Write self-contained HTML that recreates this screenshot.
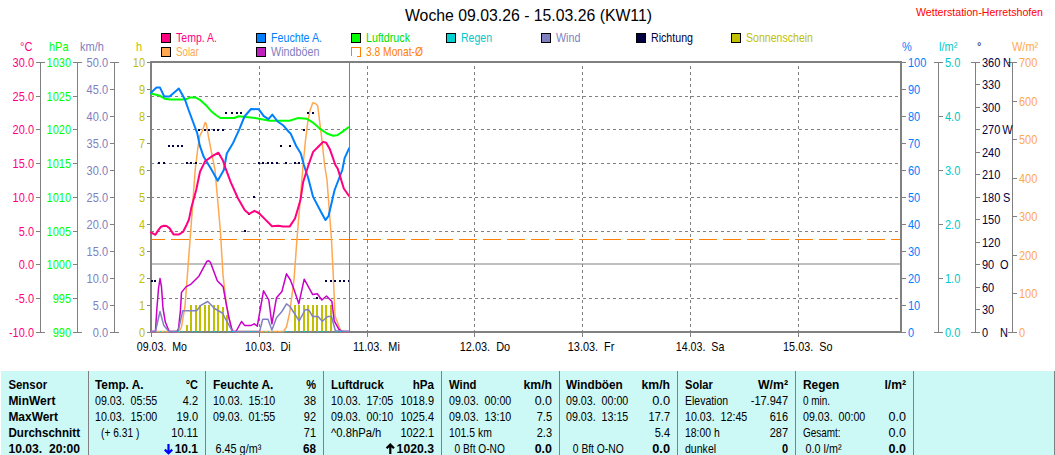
<!DOCTYPE html><html><head><meta charset="utf-8"><style>html,body{margin:0;padding:0;background:#fff;overflow:hidden}svg{display:block;font-family:"Liberation Sans", sans-serif;white-space:pre}</style></head><body>
<svg width="1055" height="455" viewBox="0 0 1055 455">
<rect x="0" y="0" width="1055" height="455" fill="#fff" shape-rendering="crispEdges"/>
<rect x="161" y="33" width="10" height="10" fill="#000" shape-rendering="crispEdges"/>
<rect x="162" y="34" width="8" height="8" fill="#ff0080" shape-rendering="crispEdges"/>
<rect x="256" y="33" width="10" height="10" fill="#000" shape-rendering="crispEdges"/>
<rect x="257" y="34" width="8" height="8" fill="#0080ff" shape-rendering="crispEdges"/>
<rect x="351" y="33" width="10" height="10" fill="#000" shape-rendering="crispEdges"/>
<rect x="352" y="34" width="8" height="8" fill="#00ff00" shape-rendering="crispEdges"/>
<rect x="446" y="33" width="10" height="10" fill="#000" shape-rendering="crispEdges"/>
<rect x="447" y="34" width="8" height="8" fill="#00d0d0" shape-rendering="crispEdges"/>
<rect x="541" y="33" width="10" height="10" fill="#000" shape-rendering="crispEdges"/>
<rect x="542" y="34" width="8" height="8" fill="#8080c0" shape-rendering="crispEdges"/>
<rect x="636" y="33" width="10" height="10" fill="#000" shape-rendering="crispEdges"/>
<rect x="637" y="34" width="8" height="8" fill="#000040" shape-rendering="crispEdges"/>
<rect x="731" y="33" width="10" height="10" fill="#000" shape-rendering="crispEdges"/>
<rect x="732" y="34" width="8" height="8" fill="#c0c000" shape-rendering="crispEdges"/>
<rect x="161" y="47" width="10" height="10" fill="#000" shape-rendering="crispEdges"/>
<rect x="162" y="48" width="8" height="8" fill="#ffa850" shape-rendering="crispEdges"/>
<rect x="256" y="47" width="10" height="10" fill="#000" shape-rendering="crispEdges"/>
<rect x="257" y="48" width="8" height="8" fill="#c020c0" shape-rendering="crispEdges"/>
<rect x="351" y="47" width="1" height="9" fill="#ff8000" shape-rendering="crispEdges"/>
<rect x="351" y="47" width="10" height="1" fill="#ff8000" shape-rendering="crispEdges"/>
<rect x="360" y="47" width="1" height="10" fill="#ff8000" shape-rendering="crispEdges"/>
<rect x="357" y="56" width="4" height="1" fill="#ff8000" shape-rendering="crispEdges"/>
<rect x="40" y="62" width="1" height="271" fill="#808080"/>
<rect x="36" y="332" width="9" height="1" fill="#808080" shape-rendering="crispEdges"/>
<rect x="36" y="298" width="4" height="1" fill="#808080" shape-rendering="crispEdges"/>
<rect x="36" y="264" width="4" height="1" fill="#808080" shape-rendering="crispEdges"/>
<rect x="36" y="231" width="4" height="1" fill="#808080" shape-rendering="crispEdges"/>
<rect x="36" y="197" width="4" height="1" fill="#808080" shape-rendering="crispEdges"/>
<rect x="36" y="163" width="4" height="1" fill="#808080" shape-rendering="crispEdges"/>
<rect x="36" y="129" width="4" height="1" fill="#808080" shape-rendering="crispEdges"/>
<rect x="36" y="96" width="4" height="1" fill="#808080" shape-rendering="crispEdges"/>
<rect x="36" y="62" width="9" height="1" fill="#808080" shape-rendering="crispEdges"/>
<rect x="77" y="62" width="1" height="271" fill="#808080"/>
<rect x="73" y="332" width="9" height="1" fill="#808080" shape-rendering="crispEdges"/>
<rect x="73" y="298" width="4" height="1" fill="#808080" shape-rendering="crispEdges"/>
<rect x="73" y="264" width="4" height="1" fill="#808080" shape-rendering="crispEdges"/>
<rect x="73" y="231" width="4" height="1" fill="#808080" shape-rendering="crispEdges"/>
<rect x="73" y="197" width="4" height="1" fill="#808080" shape-rendering="crispEdges"/>
<rect x="73" y="163" width="4" height="1" fill="#808080" shape-rendering="crispEdges"/>
<rect x="73" y="129" width="4" height="1" fill="#808080" shape-rendering="crispEdges"/>
<rect x="73" y="96" width="4" height="1" fill="#808080" shape-rendering="crispEdges"/>
<rect x="73" y="62" width="9" height="1" fill="#808080" shape-rendering="crispEdges"/>
<rect x="114" y="62" width="1" height="271" fill="#808080"/>
<rect x="110" y="332" width="9" height="1" fill="#808080" shape-rendering="crispEdges"/>
<rect x="110" y="305" width="4" height="1" fill="#808080" shape-rendering="crispEdges"/>
<rect x="110" y="278" width="4" height="1" fill="#808080" shape-rendering="crispEdges"/>
<rect x="110" y="251" width="4" height="1" fill="#808080" shape-rendering="crispEdges"/>
<rect x="110" y="224" width="4" height="1" fill="#808080" shape-rendering="crispEdges"/>
<rect x="110" y="197" width="4" height="1" fill="#808080" shape-rendering="crispEdges"/>
<rect x="110" y="170" width="4" height="1" fill="#808080" shape-rendering="crispEdges"/>
<rect x="110" y="143" width="4" height="1" fill="#808080" shape-rendering="crispEdges"/>
<rect x="110" y="116" width="4" height="1" fill="#808080" shape-rendering="crispEdges"/>
<rect x="110" y="89" width="4" height="1" fill="#808080" shape-rendering="crispEdges"/>
<rect x="110" y="62" width="9" height="1" fill="#808080" shape-rendering="crispEdges"/>
<rect x="147" y="62" width="3" height="1" fill="#808080" shape-rendering="crispEdges"/>
<rect x="147" y="89" width="3" height="1" fill="#808080" shape-rendering="crispEdges"/>
<rect x="147" y="116" width="3" height="1" fill="#808080" shape-rendering="crispEdges"/>
<rect x="147" y="143" width="3" height="1" fill="#808080" shape-rendering="crispEdges"/>
<rect x="147" y="170" width="3" height="1" fill="#808080" shape-rendering="crispEdges"/>
<rect x="147" y="197" width="3" height="1" fill="#808080" shape-rendering="crispEdges"/>
<rect x="147" y="224" width="3" height="1" fill="#808080" shape-rendering="crispEdges"/>
<rect x="147" y="251" width="3" height="1" fill="#808080" shape-rendering="crispEdges"/>
<rect x="147" y="278" width="3" height="1" fill="#808080" shape-rendering="crispEdges"/>
<rect x="147" y="305" width="3" height="1" fill="#808080" shape-rendering="crispEdges"/>
<rect x="147" y="332" width="3" height="1" fill="#808080" shape-rendering="crispEdges"/>
<rect x="902" y="62" width="4" height="1" fill="#808080" shape-rendering="crispEdges"/>
<rect x="902" y="89" width="4" height="1" fill="#808080" shape-rendering="crispEdges"/>
<rect x="902" y="116" width="4" height="1" fill="#808080" shape-rendering="crispEdges"/>
<rect x="902" y="143" width="4" height="1" fill="#808080" shape-rendering="crispEdges"/>
<rect x="902" y="170" width="4" height="1" fill="#808080" shape-rendering="crispEdges"/>
<rect x="902" y="197" width="4" height="1" fill="#808080" shape-rendering="crispEdges"/>
<rect x="902" y="224" width="4" height="1" fill="#808080" shape-rendering="crispEdges"/>
<rect x="902" y="251" width="4" height="1" fill="#808080" shape-rendering="crispEdges"/>
<rect x="902" y="278" width="4" height="1" fill="#808080" shape-rendering="crispEdges"/>
<rect x="902" y="305" width="4" height="1" fill="#808080" shape-rendering="crispEdges"/>
<rect x="902" y="332" width="4" height="1" fill="#808080" shape-rendering="crispEdges"/>
<rect x="938" y="62" width="1" height="271" fill="#808080"/>
<rect x="934" y="332" width="9" height="1" fill="#808080" shape-rendering="crispEdges"/>
<rect x="939" y="278" width="4" height="1" fill="#808080" shape-rendering="crispEdges"/>
<rect x="939" y="224" width="4" height="1" fill="#808080" shape-rendering="crispEdges"/>
<rect x="939" y="170" width="4" height="1" fill="#808080" shape-rendering="crispEdges"/>
<rect x="939" y="116" width="4" height="1" fill="#808080" shape-rendering="crispEdges"/>
<rect x="934" y="62" width="9" height="1" fill="#808080" shape-rendering="crispEdges"/>
<rect x="975" y="62" width="1" height="271" fill="#808080"/>
<rect x="971" y="332" width="9" height="1" fill="#808080" shape-rendering="crispEdges"/>
<rect x="976" y="309" width="4" height="1" fill="#808080" shape-rendering="crispEdges"/>
<rect x="976" y="287" width="4" height="1" fill="#808080" shape-rendering="crispEdges"/>
<rect x="976" y="264" width="4" height="1" fill="#808080" shape-rendering="crispEdges"/>
<rect x="976" y="242" width="4" height="1" fill="#808080" shape-rendering="crispEdges"/>
<rect x="976" y="219" width="4" height="1" fill="#808080" shape-rendering="crispEdges"/>
<rect x="976" y="197" width="4" height="1" fill="#808080" shape-rendering="crispEdges"/>
<rect x="976" y="174" width="4" height="1" fill="#808080" shape-rendering="crispEdges"/>
<rect x="976" y="152" width="4" height="1" fill="#808080" shape-rendering="crispEdges"/>
<rect x="976" y="129" width="4" height="1" fill="#808080" shape-rendering="crispEdges"/>
<rect x="976" y="107" width="4" height="1" fill="#808080" shape-rendering="crispEdges"/>
<rect x="976" y="84" width="4" height="1" fill="#808080" shape-rendering="crispEdges"/>
<rect x="971" y="62" width="9" height="1" fill="#808080" shape-rendering="crispEdges"/>
<rect x="1012" y="62" width="1" height="271" fill="#808080"/>
<rect x="1008" y="332" width="9" height="1" fill="#808080" shape-rendering="crispEdges"/>
<rect x="1013" y="293" width="4" height="1" fill="#808080" shape-rendering="crispEdges"/>
<rect x="1013" y="255" width="4" height="1" fill="#808080" shape-rendering="crispEdges"/>
<rect x="1013" y="216" width="4" height="1" fill="#808080" shape-rendering="crispEdges"/>
<rect x="1013" y="178" width="4" height="1" fill="#808080" shape-rendering="crispEdges"/>
<rect x="1013" y="139" width="4" height="1" fill="#808080" shape-rendering="crispEdges"/>
<rect x="1013" y="101" width="4" height="1" fill="#808080" shape-rendering="crispEdges"/>
<rect x="1008" y="62" width="9" height="1" fill="#808080" shape-rendering="crispEdges"/>
<line x1="152" y1="96.5" x2="900" y2="96.5" stroke="#808080" stroke-width="1" stroke-dasharray="3,3" stroke-dashoffset="1"/>
<line x1="152" y1="129.5" x2="900" y2="129.5" stroke="#808080" stroke-width="1" stroke-dasharray="3,3" stroke-dashoffset="1"/>
<line x1="152" y1="163.5" x2="900" y2="163.5" stroke="#808080" stroke-width="1" stroke-dasharray="3,3" stroke-dashoffset="1"/>
<line x1="152" y1="197.5" x2="900" y2="197.5" stroke="#808080" stroke-width="1" stroke-dasharray="3,3" stroke-dashoffset="1"/>
<line x1="152" y1="231.5" x2="900" y2="231.5" stroke="#808080" stroke-width="1" stroke-dasharray="3,3" stroke-dashoffset="1"/>
<line x1="152" y1="298.5" x2="900" y2="298.5" stroke="#808080" stroke-width="1" stroke-dasharray="3,3" stroke-dashoffset="1"/>
<rect x="152" y="263" width="748" height="2" fill="#c0c0c0" shape-rendering="crispEdges"/>
<line x1="259.5" y1="63" x2="259.5" y2="331" stroke="#808080" stroke-width="1" stroke-dasharray="3,3" stroke-dashoffset="3"/>
<rect x="259" y="333" width="1" height="4" fill="#808080" shape-rendering="crispEdges"/>
<line x1="367.5" y1="63" x2="367.5" y2="331" stroke="#808080" stroke-width="1" stroke-dasharray="3,3" stroke-dashoffset="3"/>
<rect x="367" y="333" width="1" height="4" fill="#808080" shape-rendering="crispEdges"/>
<line x1="474.5" y1="63" x2="474.5" y2="331" stroke="#808080" stroke-width="1" stroke-dasharray="3,3" stroke-dashoffset="3"/>
<rect x="474" y="333" width="1" height="4" fill="#808080" shape-rendering="crispEdges"/>
<line x1="582.5" y1="63" x2="582.5" y2="331" stroke="#808080" stroke-width="1" stroke-dasharray="3,3" stroke-dashoffset="3"/>
<rect x="582" y="333" width="1" height="4" fill="#808080" shape-rendering="crispEdges"/>
<line x1="690.5" y1="63" x2="690.5" y2="331" stroke="#808080" stroke-width="1" stroke-dasharray="3,3" stroke-dashoffset="3"/>
<rect x="690" y="333" width="1" height="4" fill="#808080" shape-rendering="crispEdges"/>
<line x1="798.5" y1="63" x2="798.5" y2="331" stroke="#808080" stroke-width="1" stroke-dasharray="3,3" stroke-dashoffset="3"/>
<rect x="798" y="333" width="1" height="4" fill="#808080" shape-rendering="crispEdges"/>
<rect x="151" y="333" width="1" height="4" fill="#808080" shape-rendering="crispEdges"/>
<line x1="152" y1="239.5" x2="900" y2="239.5" stroke="#ff8000" stroke-width="1" stroke-dasharray="18,6" stroke-dashoffset="5"/>
<rect x="150" y="61" width="752" height="2" fill="#808080" shape-rendering="crispEdges"/>
<rect x="150" y="61" width="2" height="272" fill="#808080" shape-rendering="crispEdges"/>
<rect x="900" y="61" width="2" height="272" fill="#808080" shape-rendering="crispEdges"/>
<rect x="150" y="331" width="752" height="2" fill="#808080" shape-rendering="crispEdges"/>
<rect x="147" y="62" width="3" height="1" fill="#808080" shape-rendering="crispEdges"/>
<rect x="902" y="62" width="4" height="1" fill="#808080" shape-rendering="crispEdges"/>
<rect x="186" y="325" width="2" height="6" fill="#c0c000" shape-rendering="crispEdges"/>
<rect x="190" y="305" width="2" height="26" fill="#c0c000" shape-rendering="crispEdges"/>
<rect x="195" y="305" width="2" height="26" fill="#c0c000" shape-rendering="crispEdges"/>
<rect x="199" y="305" width="2" height="26" fill="#c0c000" shape-rendering="crispEdges"/>
<rect x="204" y="305" width="2" height="26" fill="#c0c000" shape-rendering="crispEdges"/>
<rect x="208" y="305" width="2" height="26" fill="#c0c000" shape-rendering="crispEdges"/>
<rect x="213" y="305" width="2" height="26" fill="#c0c000" shape-rendering="crispEdges"/>
<rect x="217" y="305" width="2" height="26" fill="#c0c000" shape-rendering="crispEdges"/>
<rect x="222" y="307" width="2" height="24" fill="#c0c000" shape-rendering="crispEdges"/>
<rect x="226" y="315" width="2" height="16" fill="#c0c000" shape-rendering="crispEdges"/>
<rect x="294" y="305" width="2" height="26" fill="#c0c000" shape-rendering="crispEdges"/>
<rect x="298" y="305" width="2" height="26" fill="#c0c000" shape-rendering="crispEdges"/>
<rect x="303" y="305" width="2" height="26" fill="#c0c000" shape-rendering="crispEdges"/>
<rect x="307" y="305" width="2" height="26" fill="#c0c000" shape-rendering="crispEdges"/>
<rect x="312" y="305" width="2" height="26" fill="#c0c000" shape-rendering="crispEdges"/>
<rect x="316" y="305" width="2" height="26" fill="#c0c000" shape-rendering="crispEdges"/>
<rect x="321" y="305" width="2" height="26" fill="#c0c000" shape-rendering="crispEdges"/>
<rect x="325" y="305" width="2" height="26" fill="#c0c000" shape-rendering="crispEdges"/>
<rect x="330" y="305" width="2" height="26" fill="#c0c000" shape-rendering="crispEdges"/>
<polyline points="151.0,331.5 179.2,331.5 181.5,327.0 185.0,306.2 187.3,276.2 190.8,230.0 195.2,170.0 197.8,148.3 199.8,135.7 202.4,131.1 205.1,122.5 206.4,124.5 208.4,136.4 211.7,153.5 215.0,170.0 220.3,230.0 223.1,276.2 226.6,306.2 231.2,328.0 233.0,331.5 283.5,331.5 286.5,327.0 289.6,313.0 294.0,280.0 296.9,240.0 303.1,165.0 305.4,141.2 307.7,122.7 310.0,110.4 312.8,102.7 315.4,103.5 317.7,105.8 319.2,118.0 321.5,136.5 324.6,165.0 327.0,180.0 331.5,240.0 333.5,280.0 335.0,316.0 341.0,331.5 349.0,331.5" fill="none" stroke="#ffa850" stroke-width="1.5" stroke-linejoin="round" stroke-linecap="round"/>
<polyline points="151.0,331.5 155.4,331.5 156.9,308.5 158.5,288.5 160.0,278.5 161.5,287.0 163.0,308.5 165.4,322.3 169.2,331.5 176.9,331.5 178.5,328.5 180.4,310.8 181.5,292.4 186.2,286.6 190.8,284.3 198.9,276.2 207.0,261.2 208.8,260.8 210.4,262.3 217.3,280.8 223.1,286.6 225.4,299.3 228.9,317.8 232.4,331.5 236.0,331.5 241.5,321.5 244.6,325.4 251.2,325.4 254.2,323.8 257.3,326.2 260.4,308.5 263.5,290.8 268.8,300.0 271.9,323.8 276.5,297.7 281.9,291.5 286.5,273.8 290.4,280.0 294.2,290.0 298.8,303.8 304.2,279.2 312.7,294.6 317.3,293.8 321.9,300.0 326.5,296.0 331.9,301.5 334.2,320.8 338.8,329.2 341.9,331.5 349.0,331.5" fill="none" stroke="#c800c8" stroke-width="1.5" stroke-linejoin="round" stroke-linecap="round"/>
<polyline points="151.0,331.5 155.4,331.5 160.0,311.5 163.8,325.4 169.0,331.5 178.1,331.5 182.7,310.8 196.6,310.8 200.8,305.4 207.7,301.5 214.6,308.5 222.3,313.0 232.4,331.5 259.6,331.5 262.7,319.2 268.0,319.2 271.9,330.0 276.5,317.7 281.9,311.5 286.5,303.8 290.0,306.5 299.2,320.8 305.0,310.0 308.5,309.6 312.7,316.5 318.0,316.5 322.3,321.2 327.7,316.5 331.5,316.5 335.4,330.8 349.0,331.5" fill="none" stroke="#8080c0" stroke-width="1.5" stroke-linejoin="round" stroke-linecap="round"/>
<line x1="151" y1="331.5" x2="349" y2="331.5" stroke="#00d0d0" stroke-width="1" stroke-dasharray="1,3.5"/>
<rect x="151.0" y="280.0" width="2" height="2" fill="#000040" shape-rendering="crispEdges"/>
<rect x="154.0" y="280.0" width="2" height="2" fill="#000040" shape-rendering="crispEdges"/>
<rect x="158.3" y="162.0" width="2" height="2" fill="#000040" shape-rendering="crispEdges"/>
<rect x="162.6" y="162.0" width="2" height="2" fill="#000040" shape-rendering="crispEdges"/>
<rect x="185.9" y="162.0" width="2" height="2" fill="#000040" shape-rendering="crispEdges"/>
<rect x="190.1" y="162.0" width="2" height="2" fill="#000040" shape-rendering="crispEdges"/>
<rect x="194.7" y="162.0" width="2" height="2" fill="#000040" shape-rendering="crispEdges"/>
<rect x="167.6" y="145.0" width="2" height="2" fill="#000040" shape-rendering="crispEdges"/>
<rect x="172.3" y="145.0" width="2" height="2" fill="#000040" shape-rendering="crispEdges"/>
<rect x="176.9" y="145.0" width="2" height="2" fill="#000040" shape-rendering="crispEdges"/>
<rect x="181.1" y="145.0" width="2" height="2" fill="#000040" shape-rendering="crispEdges"/>
<rect x="198.3" y="129.0" width="2" height="2" fill="#000040" shape-rendering="crispEdges"/>
<rect x="204.0" y="129.0" width="2" height="2" fill="#000040" shape-rendering="crispEdges"/>
<rect x="207.6" y="129.0" width="2" height="2" fill="#000040" shape-rendering="crispEdges"/>
<rect x="212.6" y="129.0" width="2" height="2" fill="#000040" shape-rendering="crispEdges"/>
<rect x="217.3" y="129.0" width="2" height="2" fill="#000040" shape-rendering="crispEdges"/>
<rect x="221.9" y="129.0" width="2" height="2" fill="#000040" shape-rendering="crispEdges"/>
<rect x="225.0" y="112.0" width="2" height="2" fill="#000040" shape-rendering="crispEdges"/>
<rect x="230.5" y="112.0" width="2" height="2" fill="#000040" shape-rendering="crispEdges"/>
<rect x="235.5" y="112.0" width="2" height="2" fill="#000040" shape-rendering="crispEdges"/>
<rect x="240.0" y="112.0" width="2" height="2" fill="#000040" shape-rendering="crispEdges"/>
<rect x="244.0" y="229.8" width="2" height="2" fill="#000040" shape-rendering="crispEdges"/>
<rect x="248.2" y="212.8" width="2" height="2" fill="#000040" shape-rendering="crispEdges"/>
<rect x="253.0" y="195.5" width="2" height="2" fill="#000040" shape-rendering="crispEdges"/>
<rect x="257.9" y="162.0" width="2" height="2" fill="#000040" shape-rendering="crispEdges"/>
<rect x="262.1" y="162.0" width="2" height="2" fill="#000040" shape-rendering="crispEdges"/>
<rect x="267.2" y="162.0" width="2" height="2" fill="#000040" shape-rendering="crispEdges"/>
<rect x="271.3" y="162.0" width="2" height="2" fill="#000040" shape-rendering="crispEdges"/>
<rect x="275.9" y="162.0" width="2" height="2" fill="#000040" shape-rendering="crispEdges"/>
<rect x="284.8" y="162.0" width="2" height="2" fill="#000040" shape-rendering="crispEdges"/>
<rect x="293.6" y="162.0" width="2" height="2" fill="#000040" shape-rendering="crispEdges"/>
<rect x="297.9" y="162.0" width="2" height="2" fill="#000040" shape-rendering="crispEdges"/>
<rect x="279.8" y="145.0" width="2" height="2" fill="#000040" shape-rendering="crispEdges"/>
<rect x="289.0" y="145.0" width="2" height="2" fill="#000040" shape-rendering="crispEdges"/>
<rect x="302.8" y="129.0" width="2" height="2" fill="#000040" shape-rendering="crispEdges"/>
<rect x="307.0" y="112.0" width="2" height="2" fill="#000040" shape-rendering="crispEdges"/>
<rect x="312.1" y="112.0" width="2" height="2" fill="#000040" shape-rendering="crispEdges"/>
<rect x="315.5" y="296.5" width="2" height="2" fill="#000040" shape-rendering="crispEdges"/>
<rect x="324.9" y="280.0" width="2" height="2" fill="#000040" shape-rendering="crispEdges"/>
<rect x="329.9" y="280.0" width="2" height="2" fill="#000040" shape-rendering="crispEdges"/>
<rect x="334.0" y="280.0" width="2" height="2" fill="#000040" shape-rendering="crispEdges"/>
<rect x="339.0" y="280.0" width="2" height="2" fill="#000040" shape-rendering="crispEdges"/>
<rect x="342.9" y="280.0" width="2" height="2" fill="#000040" shape-rendering="crispEdges"/>
<rect x="348.0" y="280.0" width="2" height="2" fill="#000040" shape-rendering="crispEdges"/>
<polyline points="151.0,93.5 160.0,95.8 165.0,98.8 170.0,99.6 185.0,99.6 190.0,97.6 195.8,97.6 200.4,100.2 206.5,105.8 211.2,111.2 215.8,115.0 220.4,118.0 234.2,118.0 238.8,116.2 255.0,118.0 269.8,120.8 289.6,120.8 297.7,118.1 306.9,118.8 313.1,122.7 319.2,128.1 326.9,133.5 333.1,135.8 336.9,135.3 342.3,131.9 348.5,127.3" fill="none" stroke="#00ff00" stroke-width="2" stroke-linejoin="round" stroke-linecap="round"/>
<polyline points="151.0,92.7 156.5,87.6 160.0,87.6 164.2,96.5 169.6,96.5 178.8,88.5 185.0,99.6 188.6,110.0 197.2,133.1 199.8,145.6 203.7,156.8 211.7,170.0 217.7,180.8 223.8,170.0 226.8,153.5 232.8,143.6 239.4,129.1 244.5,116.5 251.0,109.0 258.8,109.3 263.8,116.2 268.5,119.2 272.3,114.6 277.7,121.5 283.0,125.2 288.5,131.5 290.8,133.8 296.2,146.0 300.8,153.5 303.8,164.6 305.5,170.0 308.2,178.0 313.1,196.9 320.8,211.5 325.4,220.0 328.5,216.2 334.6,190.0 342.3,170.0 344.6,158.1 349.2,148.1" fill="none" stroke="#0080ff" stroke-width="2" stroke-linejoin="round" stroke-linecap="round"/>
<polyline points="151.0,232.3 155.4,234.8 158.0,230.6 161.0,226.7 164.0,225.7 166.5,226.0 169.5,228.1 173.5,234.4 179.0,234.4 183.0,232.0 186.5,225.0 189.0,219.4 191.5,206.9 196.2,190.0 200.0,171.7 205.2,161.1 211.4,156.7 218.4,152.7 222.8,160.2 225.5,168.1 230.7,182.2 237.8,198.0 244.8,210.3 249.2,213.9 254.4,210.8 258.8,213.0 265.4,219.6 272.0,226.2 278.6,225.7 283.0,226.6 289.6,226.6 295.0,218.5 297.3,210.8 300.5,199.8 303.1,182.3 306.9,170.0 308.5,165.0 313.1,151.9 318.5,146.5 323.1,141.9 326.2,142.7 330.0,149.6 335.4,165.0 337.9,169.1 343.8,188.5 349.2,196.2" fill="none" stroke="#ff0080" stroke-width="2" stroke-linejoin="round" stroke-linecap="round"/>
<rect x="349" y="63" width="1" height="268" fill="#808080" shape-rendering="crispEdges"/>
<rect x="1" y="371" width="1053" height="84" fill="#ccf8f6" shape-rendering="crispEdges"/>
<rect x="1054" y="371" width="1" height="84" fill="#808080" shape-rendering="crispEdges"/>
<rect x="88" y="371" width="1" height="84" fill="#808080" shape-rendering="crispEdges"/>
<rect x="205" y="371" width="1" height="84" fill="#808080" shape-rendering="crispEdges"/>
<rect x="323" y="371" width="1" height="84" fill="#808080" shape-rendering="crispEdges"/>
<rect x="441" y="371" width="1" height="84" fill="#808080" shape-rendering="crispEdges"/>
<rect x="559" y="371" width="1" height="84" fill="#808080" shape-rendering="crispEdges"/>
<rect x="677" y="371" width="1" height="84" fill="#808080" shape-rendering="crispEdges"/>
<rect x="795" y="371" width="1" height="84" fill="#808080" shape-rendering="crispEdges"/>
<rect x="913" y="371" width="1" height="84" fill="#808080" shape-rendering="crispEdges"/>
<path d="M168.5,444 V453 M164.8,449.6 L168.5,453.3 L172.2,449.6" fill="none" stroke="#0000ff" stroke-width="2.2"/>
<path d="M390.3,454 V445 M386.6,448.3 L390.3,444.6 L394,448.3" fill="none" stroke="#000" stroke-width="2.2"/>
<g>
<text transform="translate(405,21) scale(1,1.0)" fill="#000" text-anchor="start" font-size="16" textLength="247" lengthAdjust="spacingAndGlyphs">Woche 09.03.26 - 15.03.26 (KW11)</text>
<text transform="translate(916,16) scale(1,1.01)" fill="#ff0000" text-anchor="start" font-size="11" textLength="127" lengthAdjust="spacingAndGlyphs">Wetterstation-Herretshofen</text>
<text transform="translate(176,42) scale(1,1.14)" fill="#ff0080" text-anchor="start" font-size="11" textLength="41" lengthAdjust="spacingAndGlyphs">Temp. A.</text>
<text transform="translate(271,42) scale(1,1.14)" fill="#0080ff" text-anchor="start" font-size="11" textLength="51" lengthAdjust="spacingAndGlyphs">Feuchte A.</text>
<text transform="translate(366,42) scale(1,1.14)" fill="#00e000" text-anchor="start" font-size="11" textLength="44" lengthAdjust="spacingAndGlyphs">Luftdruck</text>
<text transform="translate(461,42) scale(1,1.14)" fill="#00c8c8" text-anchor="start" font-size="11" textLength="31" lengthAdjust="spacingAndGlyphs">Regen</text>
<text transform="translate(556,42) scale(1,1.14)" fill="#8080c0" text-anchor="start" font-size="11" textLength="24.4" lengthAdjust="spacingAndGlyphs">Wind</text>
<text transform="translate(651,42) scale(1,1.14)" fill="#000040" text-anchor="start" font-size="11" textLength="42" lengthAdjust="spacingAndGlyphs">Richtung</text>
<text transform="translate(746,42) scale(1,1.14)" fill="#c0c000" text-anchor="start" font-size="11" textLength="67" lengthAdjust="spacingAndGlyphs">Sonnenschein</text>
<text transform="translate(176,56) scale(1,1.14)" fill="#ffa850" text-anchor="start" font-size="11" textLength="22.8" lengthAdjust="spacingAndGlyphs">Solar</text>
<text transform="translate(271,56) scale(1,1.14)" fill="#8080c0" text-anchor="start" font-size="11" textLength="48.5" lengthAdjust="spacingAndGlyphs">Windböen</text>
<text transform="translate(366,56) scale(1,1.14)" fill="#ff8000" text-anchor="start" font-size="11" textLength="57" lengthAdjust="spacingAndGlyphs">3.8 Monat-Ø</text>
<text transform="translate(34,337) scale(1,1.14)" fill="#ff0080" text-anchor="end" font-size="11">-10.0</text>
<text transform="translate(34,303) scale(1,1.14)" fill="#ff0080" text-anchor="end" font-size="11">-5.0</text>
<text transform="translate(34,269) scale(1,1.14)" fill="#ff0080" text-anchor="end" font-size="11">0.0</text>
<text transform="translate(34,236) scale(1,1.14)" fill="#ff0080" text-anchor="end" font-size="11">5.0</text>
<text transform="translate(34,202) scale(1,1.14)" fill="#ff0080" text-anchor="end" font-size="11">10.0</text>
<text transform="translate(34,168) scale(1,1.14)" fill="#ff0080" text-anchor="end" font-size="11">15.0</text>
<text transform="translate(34,134) scale(1,1.14)" fill="#ff0080" text-anchor="end" font-size="11">20.0</text>
<text transform="translate(34,101) scale(1,1.14)" fill="#ff0080" text-anchor="end" font-size="11">25.0</text>
<text transform="translate(34,67) scale(1,1.14)" fill="#ff0080" text-anchor="end" font-size="11">30.0</text>
<text transform="translate(20,51) scale(1,1.14)" fill="#ff0080" text-anchor="start" font-size="11">°C</text>
<text transform="translate(71,337) scale(1,1.14)" fill="#00ff00" text-anchor="end" font-size="11">990</text>
<text transform="translate(71,303) scale(1,1.14)" fill="#00ff00" text-anchor="end" font-size="11">995</text>
<text transform="translate(71,269) scale(1,1.14)" fill="#00ff00" text-anchor="end" font-size="11">1000</text>
<text transform="translate(71,236) scale(1,1.14)" fill="#00ff00" text-anchor="end" font-size="11">1005</text>
<text transform="translate(71,202) scale(1,1.14)" fill="#00ff00" text-anchor="end" font-size="11">1010</text>
<text transform="translate(71,168) scale(1,1.14)" fill="#00ff00" text-anchor="end" font-size="11">1015</text>
<text transform="translate(71,134) scale(1,1.14)" fill="#00ff00" text-anchor="end" font-size="11">1020</text>
<text transform="translate(71,101) scale(1,1.14)" fill="#00ff00" text-anchor="end" font-size="11">1025</text>
<text transform="translate(71,67) scale(1,1.14)" fill="#00ff00" text-anchor="end" font-size="11">1030</text>
<text transform="translate(49,51) scale(1,1.14)" fill="#00ff00" text-anchor="start" font-size="11">hPa</text>
<text transform="translate(108,337) scale(1,1.14)" fill="#8080c0" text-anchor="end" font-size="11">0.0</text>
<text transform="translate(108,310) scale(1,1.14)" fill="#8080c0" text-anchor="end" font-size="11">5.0</text>
<text transform="translate(108,283) scale(1,1.14)" fill="#8080c0" text-anchor="end" font-size="11">10.0</text>
<text transform="translate(108,256) scale(1,1.14)" fill="#8080c0" text-anchor="end" font-size="11">15.0</text>
<text transform="translate(108,229) scale(1,1.14)" fill="#8080c0" text-anchor="end" font-size="11">20.0</text>
<text transform="translate(108,202) scale(1,1.14)" fill="#8080c0" text-anchor="end" font-size="11">25.0</text>
<text transform="translate(108,175) scale(1,1.14)" fill="#8080c0" text-anchor="end" font-size="11">30.0</text>
<text transform="translate(108,148) scale(1,1.14)" fill="#8080c0" text-anchor="end" font-size="11">35.0</text>
<text transform="translate(108,121) scale(1,1.14)" fill="#8080c0" text-anchor="end" font-size="11">40.0</text>
<text transform="translate(108,94) scale(1,1.14)" fill="#8080c0" text-anchor="end" font-size="11">45.0</text>
<text transform="translate(108,67) scale(1,1.14)" fill="#8080c0" text-anchor="end" font-size="11">50.0</text>
<text transform="translate(80,51) scale(1,1.14)" fill="#8080c0" text-anchor="start" font-size="11">km/h</text>
<text transform="translate(145,67) scale(1,1.14)" fill="#c0c000" text-anchor="end" font-size="11">10</text>
<text transform="translate(145,94) scale(1,1.14)" fill="#c0c000" text-anchor="end" font-size="11">9</text>
<text transform="translate(145,121) scale(1,1.14)" fill="#c0c000" text-anchor="end" font-size="11">8</text>
<text transform="translate(145,148) scale(1,1.14)" fill="#c0c000" text-anchor="end" font-size="11">7</text>
<text transform="translate(145,175) scale(1,1.14)" fill="#c0c000" text-anchor="end" font-size="11">6</text>
<text transform="translate(145,202) scale(1,1.14)" fill="#c0c000" text-anchor="end" font-size="11">5</text>
<text transform="translate(145,229) scale(1,1.14)" fill="#c0c000" text-anchor="end" font-size="11">4</text>
<text transform="translate(145,256) scale(1,1.14)" fill="#c0c000" text-anchor="end" font-size="11">3</text>
<text transform="translate(145,283) scale(1,1.14)" fill="#c0c000" text-anchor="end" font-size="11">2</text>
<text transform="translate(145,310) scale(1,1.14)" fill="#c0c000" text-anchor="end" font-size="11">1</text>
<text transform="translate(145,337) scale(1,1.14)" fill="#c0c000" text-anchor="end" font-size="11">0</text>
<text transform="translate(136,51) scale(1,1.14)" fill="#c0c000" text-anchor="start" font-size="11">h</text>
<text transform="translate(908,67) scale(1,1.14)" fill="#0080ff" text-anchor="start" font-size="11">100</text>
<text transform="translate(908,94) scale(1,1.14)" fill="#0080ff" text-anchor="start" font-size="11">90</text>
<text transform="translate(908,121) scale(1,1.14)" fill="#0080ff" text-anchor="start" font-size="11">80</text>
<text transform="translate(908,148) scale(1,1.14)" fill="#0080ff" text-anchor="start" font-size="11">70</text>
<text transform="translate(908,175) scale(1,1.14)" fill="#0080ff" text-anchor="start" font-size="11">60</text>
<text transform="translate(908,202) scale(1,1.14)" fill="#0080ff" text-anchor="start" font-size="11">50</text>
<text transform="translate(908,229) scale(1,1.14)" fill="#0080ff" text-anchor="start" font-size="11">40</text>
<text transform="translate(908,256) scale(1,1.14)" fill="#0080ff" text-anchor="start" font-size="11">30</text>
<text transform="translate(908,283) scale(1,1.14)" fill="#0080ff" text-anchor="start" font-size="11">20</text>
<text transform="translate(908,310) scale(1,1.14)" fill="#0080ff" text-anchor="start" font-size="11">10</text>
<text transform="translate(908,337) scale(1,1.14)" fill="#0080ff" text-anchor="start" font-size="11">0</text>
<text transform="translate(902,51) scale(1,1.14)" fill="#0080ff" text-anchor="start" font-size="11">%</text>
<text transform="translate(945,337) scale(1,1.14)" fill="#00c8c8" text-anchor="start" font-size="11">0.0</text>
<text transform="translate(945,283) scale(1,1.14)" fill="#00c8c8" text-anchor="start" font-size="11">1.0</text>
<text transform="translate(945,229) scale(1,1.14)" fill="#00c8c8" text-anchor="start" font-size="11">2.0</text>
<text transform="translate(945,175) scale(1,1.14)" fill="#00c8c8" text-anchor="start" font-size="11">3.0</text>
<text transform="translate(945,121) scale(1,1.14)" fill="#00c8c8" text-anchor="start" font-size="11">4.0</text>
<text transform="translate(945,67) scale(1,1.14)" fill="#00c8c8" text-anchor="start" font-size="11">5.0</text>
<text transform="translate(939,51) scale(1,1.14)" fill="#00c8c8" text-anchor="start" font-size="11">l/m²</text>
<text transform="translate(1003,67) scale(1,1.14)" fill="#000040" text-anchor="start" font-size="11">N</text>
<text transform="translate(1002.2,134) scale(1,1.14)" fill="#000040" text-anchor="start" font-size="11">W</text>
<text transform="translate(1003,202) scale(1,1.14)" fill="#000040" text-anchor="start" font-size="11">S</text>
<text transform="translate(1000,269) scale(1,1.14)" fill="#000040" text-anchor="start" font-size="11">O</text>
<text transform="translate(1000,337) scale(1,1.14)" fill="#000040" text-anchor="start" font-size="11">N</text>
<text transform="translate(982,337) scale(1,1.14)" fill="#000040" text-anchor="start" font-size="11">0</text>
<text transform="translate(982,314) scale(1,1.14)" fill="#000040" text-anchor="start" font-size="11">30</text>
<text transform="translate(982,292) scale(1,1.14)" fill="#000040" text-anchor="start" font-size="11">60</text>
<text transform="translate(982,269) scale(1,1.14)" fill="#000040" text-anchor="start" font-size="11">90</text>
<text transform="translate(982,247) scale(1,1.14)" fill="#000040" text-anchor="start" font-size="11">120</text>
<text transform="translate(982,224) scale(1,1.14)" fill="#000040" text-anchor="start" font-size="11">150</text>
<text transform="translate(982,202) scale(1,1.14)" fill="#000040" text-anchor="start" font-size="11">180</text>
<text transform="translate(982,179) scale(1,1.14)" fill="#000040" text-anchor="start" font-size="11">210</text>
<text transform="translate(982,157) scale(1,1.14)" fill="#000040" text-anchor="start" font-size="11">240</text>
<text transform="translate(982,134) scale(1,1.14)" fill="#000040" text-anchor="start" font-size="11">270</text>
<text transform="translate(982,112) scale(1,1.14)" fill="#000040" text-anchor="start" font-size="11">300</text>
<text transform="translate(982,89) scale(1,1.14)" fill="#000040" text-anchor="start" font-size="11">330</text>
<text transform="translate(982,67) scale(1,1.14)" fill="#000040" text-anchor="start" font-size="11">360</text>
<text transform="translate(977,51) scale(1,1.14)" fill="#000040" text-anchor="start" font-size="11">°</text>
<text transform="translate(1019,337) scale(1,1.14)" fill="#ffa850" text-anchor="start" font-size="11">0</text>
<text transform="translate(1019,298) scale(1,1.14)" fill="#ffa850" text-anchor="start" font-size="11">100</text>
<text transform="translate(1019,260) scale(1,1.14)" fill="#ffa850" text-anchor="start" font-size="11">200</text>
<text transform="translate(1019,221) scale(1,1.14)" fill="#ffa850" text-anchor="start" font-size="11">300</text>
<text transform="translate(1019,183) scale(1,1.14)" fill="#ffa850" text-anchor="start" font-size="11">400</text>
<text transform="translate(1019,144) scale(1,1.14)" fill="#ffa850" text-anchor="start" font-size="11">500</text>
<text transform="translate(1019,106) scale(1,1.14)" fill="#ffa850" text-anchor="start" font-size="11">600</text>
<text transform="translate(1019,67) scale(1,1.14)" fill="#ffa850" text-anchor="start" font-size="11">700</text>
<text transform="translate(1012,51) scale(1,1.14)" fill="#ffa850" text-anchor="start" font-size="11">W/m²</text>
<text transform="translate(136.8,351) scale(1,1.14)" fill="#000" text-anchor="start" font-size="11" textLength="50.2" lengthAdjust="spacingAndGlyphs">09.03.  Mo</text>
<text transform="translate(245,351) scale(1,1.14)" fill="#000" text-anchor="start" font-size="11" textLength="45.6" lengthAdjust="spacingAndGlyphs">10.03.  Di</text>
<text transform="translate(352.9,351) scale(1,1.14)" fill="#000" text-anchor="start" font-size="11" textLength="46.9" lengthAdjust="spacingAndGlyphs">11.03.  Mi</text>
<text transform="translate(459.7,351) scale(1,1.14)" fill="#000" text-anchor="start" font-size="11" textLength="50.4" lengthAdjust="spacingAndGlyphs">12.03.  Do</text>
<text transform="translate(567.8,351) scale(1,1.14)" fill="#000" text-anchor="start" font-size="11" textLength="46.6" lengthAdjust="spacingAndGlyphs">13.03.  Fr</text>
<text transform="translate(675.8,351) scale(1,1.14)" fill="#000" text-anchor="start" font-size="11" textLength="48.6" lengthAdjust="spacingAndGlyphs">14.03.  Sa</text>
<text transform="translate(783.1,351) scale(1,1.14)" fill="#000" text-anchor="start" font-size="11" textLength="49.3" lengthAdjust="spacingAndGlyphs">15.03.  So</text>
<text transform="translate(8.4,389) scale(1,1.14)" fill="#000" text-anchor="start" font-size="11" font-weight="bold" textLength="38.7" lengthAdjust="spacingAndGlyphs">Sensor</text>
<text transform="translate(8.4,405) scale(1,1.14)" fill="#000" text-anchor="start" font-size="11" font-weight="bold" textLength="47" lengthAdjust="spacingAndGlyphs">MinWert</text>
<text transform="translate(8.4,421) scale(1,1.14)" fill="#000" text-anchor="start" font-size="11" font-weight="bold" textLength="49.6" lengthAdjust="spacingAndGlyphs">MaxWert</text>
<text transform="translate(8.4,437) scale(1,1.14)" fill="#000" text-anchor="start" font-size="11" font-weight="bold" textLength="71.6" lengthAdjust="spacingAndGlyphs">Durchschnitt</text>
<text transform="translate(8.4,453) scale(1,1.14)" fill="#000" text-anchor="start" font-size="11" font-weight="bold" textLength="71.6" lengthAdjust="spacingAndGlyphs">10.03.  20:00</text>
<text transform="translate(95,389) scale(1,1.14)" fill="#000" text-anchor="start" font-size="11" font-weight="bold" textLength="48.5" lengthAdjust="spacingAndGlyphs">Temp. A.</text>
<text transform="translate(198,389) scale(1,1.14)" fill="#000" text-anchor="end" font-size="11" font-weight="bold">°C</text>
<text transform="translate(95,405) scale(1,1.14)" fill="#000" text-anchor="start" font-size="11" textLength="62.3" lengthAdjust="spacingAndGlyphs">09.03.  05:55</text>
<text transform="translate(198,405) scale(1,1.14)" fill="#000" text-anchor="end" font-size="11">4.2</text>
<text transform="translate(95,421) scale(1,1.14)" fill="#000" text-anchor="start" font-size="11" textLength="62.3" lengthAdjust="spacingAndGlyphs">10.03.  15:00</text>
<text transform="translate(198,421) scale(1,1.14)" fill="#000" text-anchor="end" font-size="11">19.0</text>
<text transform="translate(198,437) scale(1,1.14)" fill="#000" text-anchor="end" font-size="11">10.11</text>
<text transform="translate(198,453) scale(1,1.14)" fill="#000" text-anchor="end" font-size="11" font-weight="bold" textLength="23.3" lengthAdjust="spacingAndGlyphs">10.1</text>
<text transform="translate(213,389) scale(1,1.14)" fill="#000" text-anchor="start" font-size="11" font-weight="bold" textLength="60.4" lengthAdjust="spacingAndGlyphs">Feuchte A.</text>
<text transform="translate(316,389) scale(1,1.14)" fill="#000" text-anchor="end" font-size="11" font-weight="bold">%</text>
<text transform="translate(213,405) scale(1,1.14)" fill="#000" text-anchor="start" font-size="11" textLength="62.3" lengthAdjust="spacingAndGlyphs">10.03.  15:10</text>
<text transform="translate(316,405) scale(1,1.14)" fill="#000" text-anchor="end" font-size="11">38</text>
<text transform="translate(213,421) scale(1,1.14)" fill="#000" text-anchor="start" font-size="11" textLength="62.3" lengthAdjust="spacingAndGlyphs">09.03.  01:55</text>
<text transform="translate(316,421) scale(1,1.14)" fill="#000" text-anchor="end" font-size="11">92</text>
<text transform="translate(316,437) scale(1,1.14)" fill="#000" text-anchor="end" font-size="11">71</text>
<text transform="translate(316,453) scale(1,1.14)" fill="#000" text-anchor="end" font-size="11" font-weight="bold" textLength="13" lengthAdjust="spacingAndGlyphs">68</text>
<text transform="translate(331,389) scale(1,1.14)" fill="#000" text-anchor="start" font-size="11" font-weight="bold" textLength="52.8" lengthAdjust="spacingAndGlyphs">Luftdruck</text>
<text transform="translate(434,389) scale(1,1.14)" fill="#000" text-anchor="end" font-size="11" font-weight="bold" textLength="21.3" lengthAdjust="spacingAndGlyphs">hPa</text>
<text transform="translate(331,405) scale(1,1.14)" fill="#000" text-anchor="start" font-size="11" textLength="62.3" lengthAdjust="spacingAndGlyphs">10.03.  17:05</text>
<text transform="translate(434,405) scale(1,1.14)" fill="#000" text-anchor="end" font-size="11">1018.9</text>
<text transform="translate(331,421) scale(1,1.14)" fill="#000" text-anchor="start" font-size="11" textLength="62.3" lengthAdjust="spacingAndGlyphs">09.03.  00:10</text>
<text transform="translate(434,421) scale(1,1.14)" fill="#000" text-anchor="end" font-size="11">1025.4</text>
<text transform="translate(331,437) scale(1,1.14)" fill="#000" text-anchor="start" font-size="11" textLength="50.4" lengthAdjust="spacingAndGlyphs">^0.8hPa/h</text>
<text transform="translate(434,437) scale(1,1.14)" fill="#000" text-anchor="end" font-size="11">1022.1</text>
<text transform="translate(434,453) scale(1,1.14)" fill="#000" text-anchor="end" font-size="11" font-weight="bold" textLength="37.4" lengthAdjust="spacingAndGlyphs">1020.3</text>
<text transform="translate(449,389) scale(1,1.14)" fill="#000" text-anchor="start" font-size="11" font-weight="bold" textLength="27.4" lengthAdjust="spacingAndGlyphs">Wind</text>
<text transform="translate(552,389) scale(1,1.14)" fill="#000" text-anchor="end" font-size="11" font-weight="bold" textLength="28.5" lengthAdjust="spacingAndGlyphs">km/h</text>
<text transform="translate(449,405) scale(1,1.14)" fill="#000" text-anchor="start" font-size="11" textLength="62.3" lengthAdjust="spacingAndGlyphs">09.03.  00:00</text>
<text transform="translate(552,405) scale(1,1.14)" fill="#000" text-anchor="end" font-size="11" textLength="17.3" lengthAdjust="spacingAndGlyphs">0.0</text>
<text transform="translate(449,421) scale(1,1.14)" fill="#000" text-anchor="start" font-size="11" textLength="62.3" lengthAdjust="spacingAndGlyphs">09.03.  13:10</text>
<text transform="translate(552,421) scale(1,1.14)" fill="#000" text-anchor="end" font-size="11">7.5</text>
<text transform="translate(449,437) scale(1,1.14)" fill="#000" text-anchor="start" font-size="11" textLength="42.8" lengthAdjust="spacingAndGlyphs">101.5 km</text>
<text transform="translate(552,437) scale(1,1.14)" fill="#000" text-anchor="end" font-size="11">2.3</text>
<text transform="translate(552,453) scale(1,1.14)" fill="#000" text-anchor="end" font-size="11" font-weight="bold" textLength="17.3" lengthAdjust="spacingAndGlyphs">0.0</text>
<text transform="translate(566,389) scale(1,1.14)" fill="#000" text-anchor="start" font-size="11" font-weight="bold" textLength="56.8" lengthAdjust="spacingAndGlyphs">Windböen</text>
<text transform="translate(670,389) scale(1,1.14)" fill="#000" text-anchor="end" font-size="11" font-weight="bold" textLength="28.5" lengthAdjust="spacingAndGlyphs">km/h</text>
<text transform="translate(566,405) scale(1,1.14)" fill="#000" text-anchor="start" font-size="11" textLength="62.3" lengthAdjust="spacingAndGlyphs">09.03.  00:00</text>
<text transform="translate(670,405) scale(1,1.14)" fill="#000" text-anchor="end" font-size="11" textLength="17.8" lengthAdjust="spacingAndGlyphs">0.0</text>
<text transform="translate(566,421) scale(1,1.14)" fill="#000" text-anchor="start" font-size="11" textLength="62.3" lengthAdjust="spacingAndGlyphs">09.03.  13:15</text>
<text transform="translate(670,421) scale(1,1.14)" fill="#000" text-anchor="end" font-size="11">17.7</text>
<text transform="translate(670,437) scale(1,1.14)" fill="#000" text-anchor="end" font-size="11">5.4</text>
<text transform="translate(670,453) scale(1,1.14)" fill="#000" text-anchor="end" font-size="11" font-weight="bold" textLength="17.8" lengthAdjust="spacingAndGlyphs">0.0</text>
<text transform="translate(685,389) scale(1,1.14)" fill="#000" text-anchor="start" font-size="11" font-weight="bold" textLength="27.7" lengthAdjust="spacingAndGlyphs">Solar</text>
<text transform="translate(788,389) scale(1,1.14)" fill="#000" text-anchor="end" font-size="11" font-weight="bold" textLength="30" lengthAdjust="spacingAndGlyphs">W/m²</text>
<text transform="translate(685,405) scale(1,1.14)" fill="#000" text-anchor="start" font-size="11" textLength="43.1" lengthAdjust="spacingAndGlyphs">Elevation</text>
<text transform="translate(788,405) scale(1,1.14)" fill="#000" text-anchor="end" font-size="11">-17.947</text>
<text transform="translate(685,421) scale(1,1.14)" fill="#000" text-anchor="start" font-size="11" textLength="62.3" lengthAdjust="spacingAndGlyphs">10.03.  12:45</text>
<text transform="translate(788,421) scale(1,1.14)" fill="#000" text-anchor="end" font-size="11">616</text>
<text transform="translate(685,437) scale(1,1.14)" fill="#000" text-anchor="start" font-size="11" textLength="34.7" lengthAdjust="spacingAndGlyphs">18:00 h</text>
<text transform="translate(788,437) scale(1,1.14)" fill="#000" text-anchor="end" font-size="11">287</text>
<text transform="translate(685,453) scale(1,1.14)" fill="#000" text-anchor="start" font-size="11" textLength="31.1" lengthAdjust="spacingAndGlyphs">dunkel</text>
<text transform="translate(788,453) scale(1,1.14)" fill="#000" text-anchor="end" font-size="11" font-weight="bold">0</text>
<text transform="translate(803,389) scale(1,1.14)" fill="#000" text-anchor="start" font-size="11" font-weight="bold" textLength="36.4" lengthAdjust="spacingAndGlyphs">Regen</text>
<text transform="translate(906,389) scale(1,1.14)" fill="#000" text-anchor="end" font-size="11" font-weight="bold" textLength="21.6" lengthAdjust="spacingAndGlyphs">l/m²</text>
<text transform="translate(803,405) scale(1,1.14)" fill="#000" text-anchor="start" font-size="11" textLength="27.1" lengthAdjust="spacingAndGlyphs">0 min.</text>
<text transform="translate(803,421) scale(1,1.14)" fill="#000" text-anchor="start" font-size="11" textLength="62.3" lengthAdjust="spacingAndGlyphs">09.03.  00:00</text>
<text transform="translate(906,421) scale(1,1.14)" fill="#000" text-anchor="end" font-size="11" textLength="17.5" lengthAdjust="spacingAndGlyphs">0.0</text>
<text transform="translate(803,437) scale(1,1.14)" fill="#000" text-anchor="start" font-size="11" textLength="37.6" lengthAdjust="spacingAndGlyphs">Gesamt:</text>
<text transform="translate(906,437) scale(1,1.14)" fill="#000" text-anchor="end" font-size="11" textLength="17.5" lengthAdjust="spacingAndGlyphs">0.0</text>
<text transform="translate(906,453) scale(1,1.14)" fill="#000" text-anchor="end" font-size="11" font-weight="bold" textLength="17.5" lengthAdjust="spacingAndGlyphs">0.0</text>
<text transform="translate(101,437) scale(1,1.14)" fill="#000" text-anchor="start" font-size="11" textLength="38.3" lengthAdjust="spacingAndGlyphs">(+ 6.31 )</text>
<text transform="translate(215.5,453) scale(1,1.14)" fill="#000" text-anchor="start" font-size="11" textLength="45.8" lengthAdjust="spacingAndGlyphs">6.45 g/m³</text>
<text transform="translate(454.6,453) scale(1,1.14)" fill="#000" text-anchor="start" font-size="11" textLength="50.2" lengthAdjust="spacingAndGlyphs">0 Bft O-NO</text>
<text transform="translate(572.8,453) scale(1,1.14)" fill="#000" text-anchor="start" font-size="11" textLength="50.9" lengthAdjust="spacingAndGlyphs">0 Bft O-NO</text>
<text transform="translate(805.6,453) scale(1,1.14)" fill="#000" text-anchor="start" font-size="11" textLength="35.9" lengthAdjust="spacingAndGlyphs">0.0 l/m²</text>
</g>
</svg></body></html>
